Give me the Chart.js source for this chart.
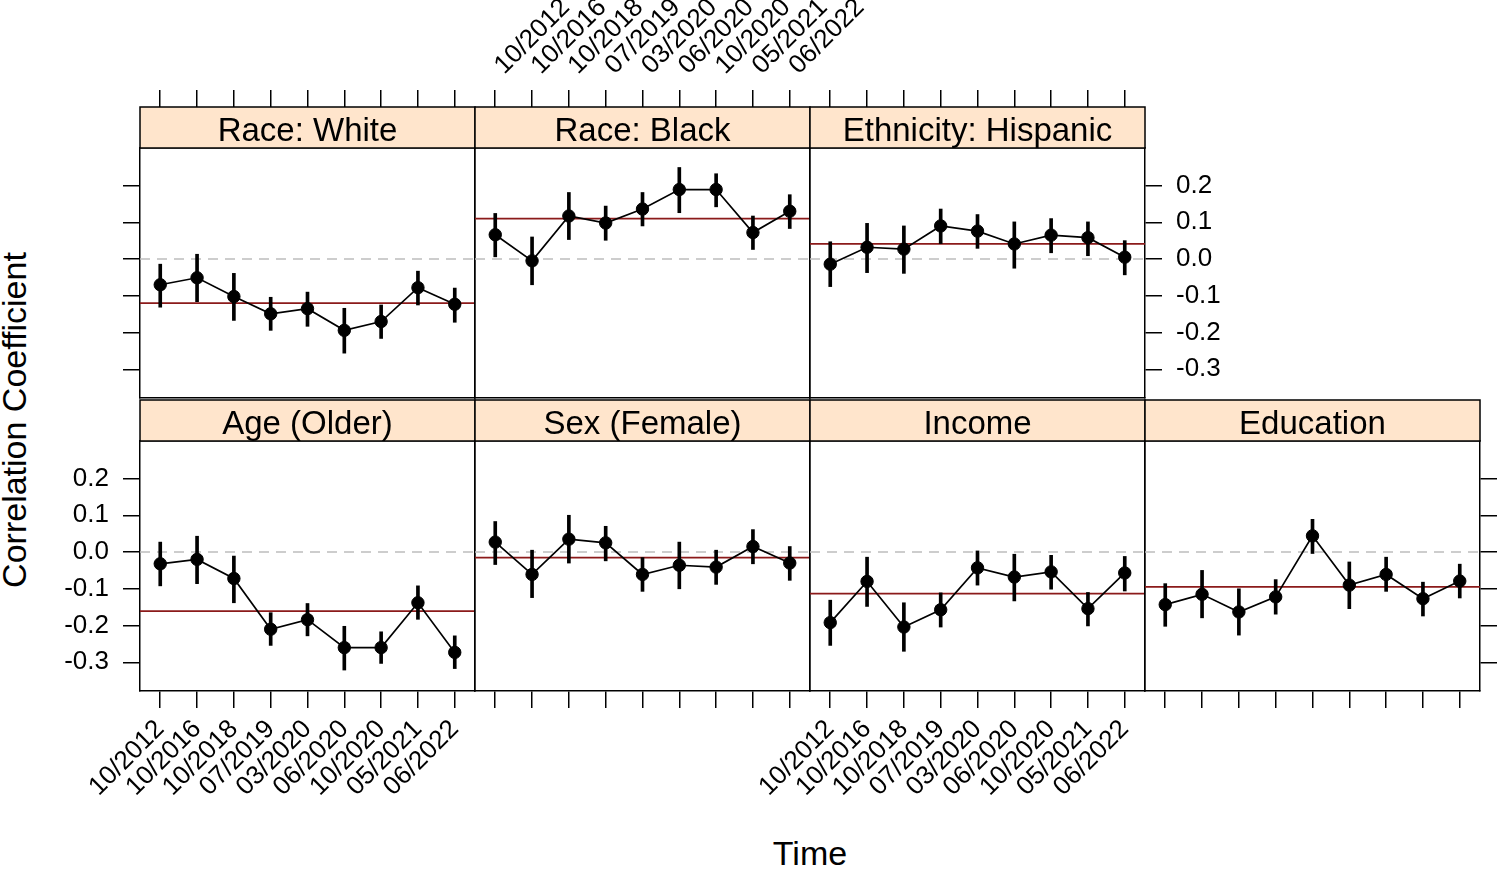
<!DOCTYPE html>
<html lang="en">
<head>
<meta charset="UTF-8" />
<title>Correlation Coefficient over Time</title>
<style>
    body {
        margin: 0;
        width: 1499px;
        height: 869px;
        position: relative;
        overflow: hidden;
        background: #ffffff;
        font-family: "Liberation Sans", Arial, sans-serif;
        color: #000000;
    }
    canvas.panel { position: absolute; }
    .axis-title {
        position: absolute;
        font-size: 34px;
        line-height: 1;
        white-space: nowrap;
    }
</style>
</head>
<body>
<div class="axis-title" style="left:14px; top:420px; transform:translate(-50%,-50%) rotate(-90deg);">Correlation Coefficient</div>
<div class="axis-title" style="left:810px; top:836px; transform:translateX(-50%);">Time</div>

<script src="https://cdn.jsdelivr.net/npm/chart.js"></script>
<script>
    // survey waves (x categories)
    const dates = ["10/2012", "10/2016", "10/2018", "07/2019", "03/2020",
                   "06/2020", "10/2020", "05/2021", "06/2022"];
    const yTickValues = [-0.3, -0.2, -0.1, 0.0, 0.1, 0.2];

    // estimates, lower and upper interval ends, per panel
    const whiteEst = [-0.070, -0.051, -0.102, -0.149, -0.135, -0.194, -0.170, -0.078, -0.123];
    const whiteLo  = [-0.131, -0.116, -0.167, -0.194, -0.183, -0.256, -0.216, -0.125, -0.172];
    const whiteHi  = [-0.014,  0.013, -0.039, -0.104, -0.090, -0.134, -0.125, -0.033, -0.079];

    const blackEst = [0.066, -0.005, 0.117, 0.098, 0.136, 0.189, 0.189, 0.072, 0.130];
    const blackLo  = [0.006, -0.070, 0.053, 0.051, 0.090, 0.126, 0.142, 0.026, 0.083];
    const blackHi  = [0.124,  0.060, 0.181, 0.144, 0.181, 0.249, 0.232, 0.117, 0.175];

    const hispEst = [-0.014,  0.032,  0.027, 0.090, 0.076,  0.041, 0.065, 0.058,  0.005];
    const hispLo  = [-0.075, -0.037, -0.039, 0.042, 0.029, -0.025, 0.017, 0.009, -0.043];
    const hispHi  = [ 0.047,  0.097,  0.090, 0.136, 0.121,  0.101, 0.110, 0.101,  0.050];

    const ageEst = [-0.032, -0.020, -0.072, -0.210, -0.184, -0.260, -0.260, -0.138, -0.273];
    const ageLo  = [-0.092, -0.086, -0.138, -0.254, -0.228, -0.321, -0.303, -0.183, -0.317];
    const ageHi  = [ 0.027,  0.043, -0.011, -0.165, -0.140, -0.202, -0.217, -0.092, -0.228];

    const sexEst = [ 0.027, -0.061,  0.035,  0.025, -0.061, -0.036, -0.041,  0.015, -0.030];
    const sexLo  = [-0.034, -0.124, -0.030, -0.024, -0.107, -0.100, -0.088, -0.032, -0.077];
    const sexHi  = [ 0.083,  0.005,  0.100,  0.070, -0.015,  0.027,  0.005,  0.061,  0.015];

    const incomeEst = [-0.192, -0.080, -0.204, -0.157, -0.043, -0.068, -0.054, -0.154, -0.057];
    const incomeLo  = [-0.254, -0.148, -0.270, -0.204, -0.090, -0.133, -0.101, -0.201, -0.106];
    const incomeHi  = [-0.131, -0.014, -0.138, -0.111,  0.003, -0.006, -0.009, -0.110, -0.012];

    const eduEst = [-0.143, -0.115, -0.163, -0.122,  0.044, -0.090, -0.061, -0.127, -0.079];
    const eduLo  = [-0.202, -0.179, -0.226, -0.169, -0.004, -0.154, -0.107, -0.174, -0.125];
    const eduHi  = [-0.086, -0.050, -0.100, -0.075,  0.089, -0.027, -0.014, -0.082, -0.033];

    // overall mean per panel (red reference line)
    const panelMeans = [-0.120, 0.110, 0.041, -0.161, -0.015, -0.113, -0.095];

    // layout
    const PW = 335, PH = 250, STRIP = 41, TICK = 17;
    const ML = 90, MR = 90, MT = 170, MB = 135;
    const X_MIN = -0.55, X_MAX = 8.55, Y_MIN = -0.378, Y_MAX = 0.302;
    const FONT = '"Liberation Sans", Arial, sans-serif';

    Chart.defaults.font.family = FONT;
    Chart.defaults.color = "#000";

    // panel strip with its title, drawn over the top tick marks
    const stripPlugin = {
        id: "strip",
        afterDraw(chart, args, opts) {
            const { ctx, chartArea: a } = chart;
            ctx.save();
            ctx.fillStyle = "#ffe5cc";
            ctx.fillRect(a.left, a.top - STRIP, a.right - a.left, STRIP);
            ctx.strokeStyle = "#000";
            ctx.lineWidth = 1.5;
            ctx.strokeRect(a.left, a.top - STRIP, a.right - a.left, STRIP);
            ctx.fillStyle = "#000";
            ctx.font = "33px " + FONT;
            ctx.textAlign = "center";
            ctx.textBaseline = "alphabetic";
            ctx.fillText(opts.text, (a.left + a.right) / 2, a.top - 7.5);
            ctx.restore();
        }
    };

    function xAxis(pos, showTicks, showLabels) {
        return {
            type: "linear",
            position: pos,
            min: X_MIN,
            max: X_MAX,
            offset: false,
            afterBuildTicks: s => { s.ticks = dates.map((d, i) => ({ value: i })); },
            afterFit: s => {
                s.height = pos === "top" ? MT : MB;
                s.paddingLeft = 0; s.paddingRight = 0;
            },
            grid: {
                drawOnChartArea: false,
                drawTicks: showTicks,
                tickLength: pos === "top" ? STRIP + TICK : TICK,
                color: "#000",
                lineWidth: 1.5,
                offset: false
            },
            border: { display: true, color: "#000", width: 1.5 },
            ticks: {
                display: showLabels,
                autoSkip: false,
                minRotation: 45,
                maxRotation: 45,
                padding: pos === "top" ? 9 : 6,
                labelOffset: pos === "top" ? 26 : 0,
                font: { size: 26 },
                callback: v => dates[v]
            }
        };
    }

    function yAxis(pos, showTicks, showLabels) {
        return {
            type: "linear",
            position: pos,
            min: Y_MIN,
            max: Y_MAX,
            afterBuildTicks: s => { s.ticks = yTickValues.map(v => ({ value: v })); },
            afterFit: s => {
                s.width = pos === "left" ? ML : MR;
                s.paddingTop = 0; s.paddingBottom = 0;
            },
            grid: {
                drawOnChartArea: false,
                drawTicks: showTicks,
                tickLength: TICK,
                color: "#000",
                lineWidth: 1.5
            },
            border: { display: true, color: "#000", width: 1.5 },
            ticks: {
                display: showLabels,
                padding: 14,
                font: { size: 26 },
                callback: v => v.toFixed(1)
            }
        };
    }

    const panels = [
        { name: "Race: White", est: whiteEst, lo: whiteLo, hi: whiteHi, col: 0, row: 0,
          top: [true, false], bottom: [false, false], left: [true, false], right: [false, false] },
        { name: "Race: Black", est: blackEst, lo: blackLo, hi: blackHi, col: 1, row: 0,
          top: [true, true], bottom: [false, false], left: [false, false], right: [false, false] },
        { name: "Ethnicity: Hispanic", est: hispEst, lo: hispLo, hi: hispHi, col: 2, row: 0,
          top: [true, false], bottom: [false, false], left: [false, false], right: [true, true] },
        { name: "Age (Older)", est: ageEst, lo: ageLo, hi: ageHi, col: 0, row: 1,
          top: [false, false], bottom: [true, true], left: [true, true], right: [false, false] },
        { name: "Sex (Female)", est: sexEst, lo: sexLo, hi: sexHi, col: 1, row: 1,
          top: [false, false], bottom: [true, false], left: [false, false], right: [false, false] },
        { name: "Income", est: incomeEst, lo: incomeLo, hi: incomeHi, col: 2, row: 1,
          top: [false, false], bottom: [true, true], left: [false, false], right: [false, false] },
        { name: "Education", est: eduEst, lo: eduLo, hi: eduHi, col: 3, row: 1,
          top: [false, false], bottom: [true, false], left: [false, false], right: [true, false] }
    ];

    panels.forEach((p, k) => {
        const left = 140 + PW * p.col;
        const top = p.row === 0 ? 148 : 441;
        const W = PW + ML + MR, H = PH + MT + MB;

        const canvas = document.createElement("canvas");
        canvas.className = "panel";
        canvas.width = W;
        canvas.height = H;
        canvas.style.left = (left - ML) + "px";
        canvas.style.top = (top - MT) + "px";
        canvas.style.width = W + "px";
        canvas.style.height = H + "px";
        document.body.appendChild(canvas);

        new Chart(canvas.getContext("2d"), {
            type: "line",
            data: {
                datasets: [
                    {
                        data: p.est.map((v, i) => ({ x: i, y: v })),
                        borderColor: "#000",
                        borderWidth: 1.7,
                        pointRadius: 6.2,
                        pointBackgroundColor: "#000",
                        pointBorderColor: "#000",
                        pointBorderWidth: 1,
                        tension: 0
                    },
                    {
                        type: "bar",
                        data: p.lo.map((v, i) => ({ x: i, y: [v, p.hi[i]] })),
                        backgroundColor: "#000",
                        borderWidth: 0,
                        barThickness: 3
                    },
                    {
                        data: [{ x: X_MIN, y: panelMeans[k] }, { x: X_MAX, y: panelMeans[k] }],
                        borderColor: "#8b1a1a",
                        borderWidth: 1.8,
                        pointRadius: 0
                    },
                    {
                        data: [{ x: X_MIN, y: 0 }, { x: X_MAX, y: 0 }],
                        borderColor: "#bdbdbd",
                        borderWidth: 1.6,
                        borderDash: [10, 7],
                        pointRadius: 0
                    }
                ]
            },
            options: {
                responsive: false,
                animation: false,
                events: [],
                layout: { padding: 0 },
                plugins: {
                    legend: { display: false },
                    tooltip: { enabled: false },
                    strip: { text: p.name }
                },
                scales: {
                    x: xAxis("bottom", p.bottom[0], p.bottom[1]),
                    x2: xAxis("top", p.top[0], p.top[1]),
                    y: yAxis("left", p.left[0], p.left[1]),
                    y2: yAxis("right", p.right[0], p.right[1])
                }
            },
            plugins: [stripPlugin]
        });
    });
</script>
</body>
</html>
